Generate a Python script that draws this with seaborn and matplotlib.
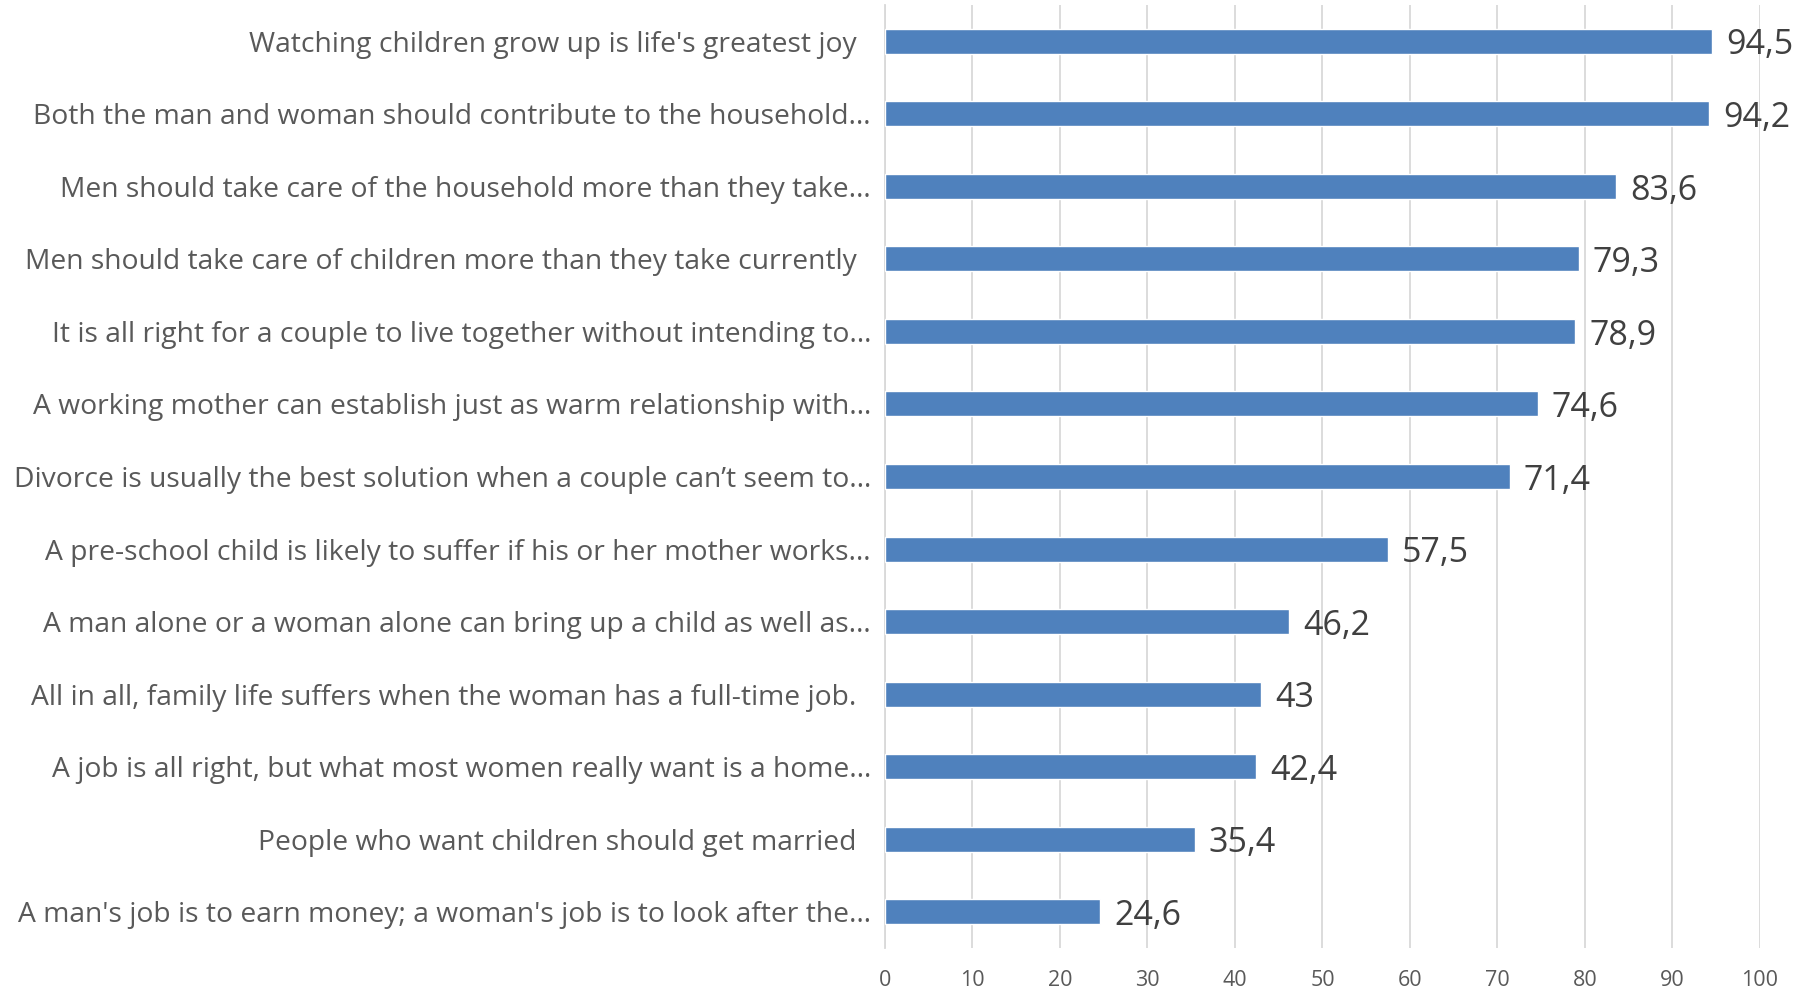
import matplotlib
matplotlib.use("Agg")
import matplotlib.pyplot as plt
from matplotlib import font_manager
import seaborn as sns
import pandas as pd

statements = [
    "Watching children grow up is life's greatest joy  ",
    "Both the man and woman should contribute to the household\u2026",
    "Men should take care of the household more than they take\u2026",
    "Men should take care of children more than they take currently  ",
    "It is all right for a couple to live together without intending to\u2026",
    "A working mother can establish just as warm relationship with\u2026",
    "Divorce is usually the best solution when a couple can\u2019t seem to\u2026",
    "A pre-school child is likely to suffer if his or her mother works\u2026",
    "A man alone or a woman alone can bring up a child as well as\u2026",
    "All in all, family life suffers when the woman has a full-time job.  ",
    "A job is all right, but what most women really want is a home\u2026",
    "People who want children should get married  ",
    "A man's job is to earn money; a woman's job is to look after the\u2026",
]
agree = [94.5, 94.2, 83.6, 79.3, 78.9, 74.6, 71.4, 57.5, 46.2, 43, 42.4, 35.4, 24.6]
x_ticks = [0, 10, 20, 30, 40, 50, 60, 70, 80, 90, 100]

sns.set_theme(style="white")

def pick_font(names):
    for n in names:
        try:
            font_manager.findfont(n, fallback_to_default=False)
            return n
        except Exception:
            continue
    return "DejaVu Sans"

fam = pick_font(["Liberation Sans Narrow", "Open Sans", "Liberation Sans"])
plt.rcParams["font.family"] = [fam, "DejaVu Sans"]

df = pd.DataFrame({"statement": statements, "agree": agree})

fig = plt.figure(figsize=(18.06, 9.90), dpi=100)
ax = fig.add_axes([885 / 1806, 1 - 948 / 990, (1760 - 885) / 1806, (948 - 5) / 990])

sns.barplot(data=df, x="agree", y="statement", color="#4F81BD", saturation=1,
            width=0.345, ax=ax, zorder=3)

ax.set_xlim(0, 100)
ax.set_xticks(x_ticks)
ax.set_xticklabels([str(t) for t in x_ticks])
ax.grid(axis="x", color="#D9D9D9", linewidth=1.3, zorder=0)
ax.set_axisbelow(True)
for s in ["top", "right", "bottom"]:
    ax.spines[s].set_visible(False)
ax.spines["left"].set_color("#D9D9D9")
ax.spines["left"].set_linewidth(1.3)
ax.set_xlabel("")
ax.set_ylabel("")
ax.tick_params(axis="x", length=0, pad=16, labelsize=15.5, labelcolor="#595959")
ax.tick_params(axis="y", length=0, pad=10, labelsize=20.3, labelcolor="#595959")

for i, v in enumerate(agree):
    label = f"{v:g}".replace(".", ",")
    ax.annotate(label, xy=(v, i), xytext=(10, -3), textcoords="offset points",
                ha="left", va="center", fontsize=24.5, color="#404040")

fig.savefig("out.png", dpi=100)
